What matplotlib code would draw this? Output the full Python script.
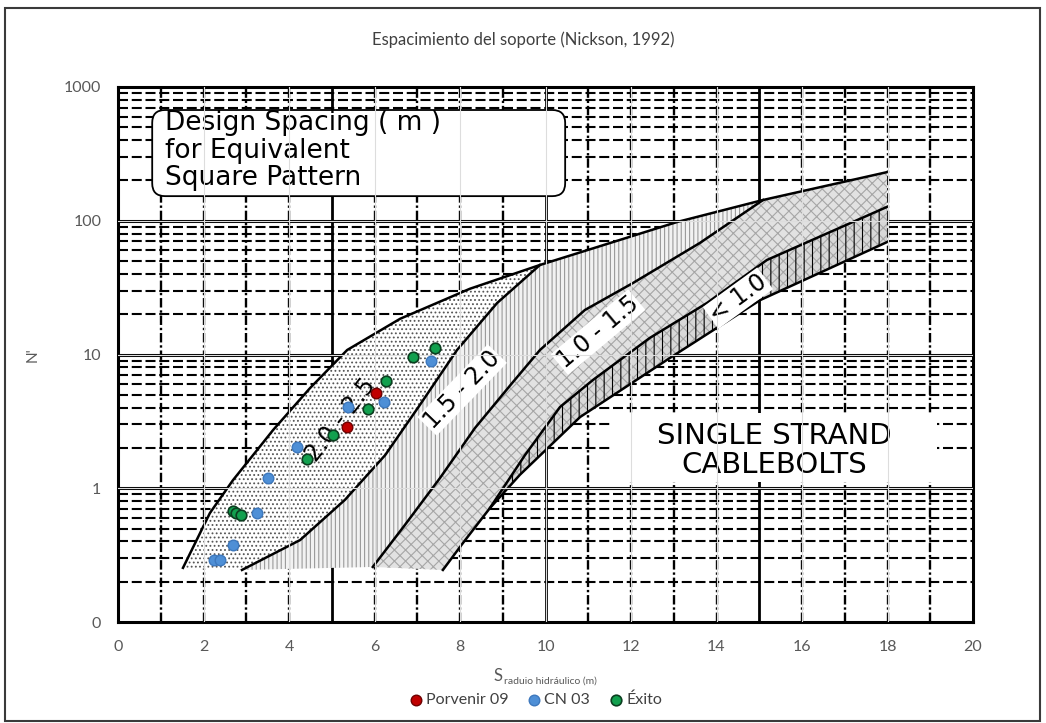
import numpy as np
import matplotlib.pyplot as plt
from matplotlib.patches import FancyBboxPatch, Rectangle

plt.rcParams['font.family'] = ['Lato', 'DejaVu Sans']
plt.rcParams['hatch.linewidth'] = 0.8

# Nickson (1992) design chart: boundaries of the spacing bands, S (m) vs N'
upper_s = [1.52, 2.15, 2.69, 3.16, 3.63, 4.49, 5.36, 6.60, 8.23, 9.87, 13.08, 15.09, 17.99]
upper_n = [0.254, 0.653, 1.15, 1.77, 2.73, 5.6, 10.8, 18.5, 31.0, 46.7, 97.9, 143, 231]

b20_s = [2.90, 4.26, 5.31, 6.25, 7.06, 7.93, 8.87, 9.87]
b20_n = [0.245, 0.41, 0.82, 1.77, 4.19, 10.8, 24.3, 46.7]

b15_s = [5.96, 6.71, 7.53, 8.35, 9.24, 9.87, 10.92, 12.05, 13.61, 15.09]
b15_n = [0.258, 0.531, 1.19, 2.82, 6.23, 10.8, 21.5, 34.3, 68.2, 143]

b10_s = [8.70, 9.52, 10.34, 11.11, 12.44, 13.78, 15.18, 17.99]
b10_n = [0.711, 1.77, 4.05, 6.45, 13.3, 24.3, 50.9, 127]

lower_s = [7.60, 8.07, 8.70, 9.40, 10.81, 12.91, 15.02, 17.99]
lower_n = [0.245, 0.390, 0.711, 1.26, 3.41, 9.42, 25.5, 69.3]

# field cases
porvenir_s = [5.36, 6.04]
porvenir_n = [2.87, 5.15]

cn03_s = [2.25, 2.38, 2.69, 3.25, 3.51, 4.19, 5.38, 6.22, 7.32]
cn03_n = [0.29, 0.29, 0.377, 0.653, 1.19, 2.03, 4.05, 4.41, 8.94]

exito_s = [2.68, 2.75, 2.88, 4.42, 5.03, 5.85, 6.27, 6.90, 7.42]
exito_n = [0.68, 0.65, 0.63, 1.66, 2.50, 3.91, 6.34, 9.58, 11.2]

x_ticks = [0, 2, 4, 6, 8, 10, 12, 14, 16, 18, 20]
y_ticks = [0.1, 1, 10, 100, 1000]
y_tick_labels = ['0', '1', '10', '100', '1000']

fig = plt.figure(figsize=(10.46, 7.23), dpi=100)
ax = fig.add_axes([118 / 1046, 101 / 723, 855 / 1046, 535 / 723])
ax.set_yscale('log')
ax.set_xlim(0, 20)
ax.set_ylim(0.1, 1000)

# chart grid
for s in range(1, 20):
    if s % 5 == 0:
        ax.axvline(s, color='black', lw=2.0, zorder=0.5)
    else:
        ax.axvline(s, color='black', lw=1.7, dashes=(4, 1.2, 1, 1.2), zorder=0.5)
for dec in [0.1, 1, 10, 100]:
    for k in range(2, 10):
        ax.axhline(k * dec, color='black', lw=1.5, dashes=(4.8, 1.8), zorder=0.5)
    if dec > 0.1:
        ax.axhline(dec, color='black', lw=2.2, zorder=0.5)
for sp in ax.spines.values():
    sp.set_linewidth(2.2)
    sp.set_color('black')

ax.add_patch(Rectangle((0.575, 0.262), 0.383, 0.129, transform=ax.transAxes,
                       facecolor='white', edgecolor='none', zorder=0.8))

upper_s, upper_n = np.array(upper_s), np.array(upper_n)
b20_s, b20_n = np.array(b20_s), np.array(b20_n)
b15_s, b15_n = np.array(b15_s), np.array(b15_n)
b10_s, b10_n = np.array(b10_s), np.array(b10_n)
lower_s, lower_n = np.array(lower_s), np.array(lower_n)

# 2.0 - 2.5
ax.fill(np.r_[upper_s[:10], b20_s[::-1]], np.r_[upper_n[:10], b20_n[::-1]],
        facecolor='white', edgecolor='#555555', hatch='....', lw=0, zorder=1)
# 1.5 - 2.0
ax.fill(np.r_[b20_s, upper_s[10:12], b15_s[::-1]], np.r_[b20_n, upper_n[10:12], b15_n[::-1]],
        facecolor='#f2f2f2', edgecolor='#9a9a9a', hatch='||||', lw=0, zorder=1)
# 1.0 - 1.5
ax.fill(np.r_[b15_s, upper_s[12:], b10_s[::-1], lower_s[1::-1]],
        np.r_[b15_n, upper_n[12:], b10_n[::-1], lower_n[1::-1]],
        facecolor='#e2e2e2', edgecolor='#a6a6a6', hatch='xxx', lw=0, zorder=1)
# < 1.0
band_s = np.r_[b10_s, lower_s[2:][::-1]]
band_n = np.r_[b10_n, lower_n[2:][::-1]]
ax.fill(band_s, band_n, facecolor='#d8d8d8', edgecolor='#a6a6a6', hatch='xxx', lw=0, zorder=1)
ax.fill(band_s, band_n, facecolor='none', edgecolor='black', hatch='||', lw=0, zorder=1.1)

for xs, ns in [(upper_s, upper_n), (b20_s, b20_n), (b15_s, b15_n), (b10_s, b10_n), (lower_s, lower_n)]:
    ax.plot(xs, ns, color='black', lw=1.8, zorder=2)

band_font = dict(family='DejaVu Sans', fontsize=17, ha='center', va='center',
                 rotation_mode='anchor', zorder=3)
ax.text(5.22, 3.24, '2.0 - 2.5', rotation=52, **band_font)
ax.text(8.05, 5.43, '1.5 - 2.0', rotation=46,
        bbox=dict(facecolor='white', edgecolor='none', pad=1), **band_font)
ax.text(11.23, 14.7, '1.0 - 1.5', rotation=40,
        bbox=dict(facecolor='white', edgecolor='none', pad=1), **band_font)
ax.text(14.50, 26.4, '< 1.0', rotation=36,
        bbox=dict(facecolor='white', edgecolor='none', pad=1), **band_font)

ax.add_patch(FancyBboxPatch((0.040, 0.796), 0.483, 0.161, transform=ax.transAxes,
                            boxstyle='round,pad=0,rounding_size=0.015', mutation_aspect=855 / 535,
                            facecolor='white', edgecolor='black', lw=1.3, zorder=3))
for yy, line in zip([0.932, 0.881, 0.830], ['Design Spacing ( m )', 'for Equivalent', 'Square Pattern']):
    ax.text(0.055, yy, line, transform=ax.transAxes, family='DejaVu Sans', fontsize=19,
            ha='left', va='center', zorder=3.2)

ax.text(0.768, 0.348, 'SINGLE STRAND', transform=ax.transAxes, family='DejaVu Sans',
        fontsize=21, ha='center', va='center', zorder=3)
ax.text(0.768, 0.294, 'CABLEBOLTS', transform=ax.transAxes, family='DejaVu Sans',
        fontsize=21, ha='center', va='center', zorder=3)

# light Excel gridlines over the chart
for s in x_ticks[1:-1]:
    ax.axvline(s, color='#dddddd', lw=0.8, zorder=3.5)
for n in y_ticks[1:-1]:
    ax.axhline(n, color='#dddddd', lw=0.8, zorder=3.5)

red = ax.scatter(porvenir_s, porvenir_n, s=58, color='#c00000', edgecolors='#6e0000',
                 linewidths=1, zorder=5, label='Porvenir 09')
blue = ax.scatter(cn03_s, cn03_n, s=58, color='#4e8fd6', edgecolors='#3d78bd',
                  linewidths=1, zorder=5, label='CN 03')
green = ax.scatter(exito_s, exito_n, s=58, color='#12a04e', edgecolors='#0b3f20',
                   linewidths=1.2, zorder=5, label='Éxito')

ax.set_xticks(x_ticks)
ax.set_yticks(y_ticks, y_tick_labels)
ax.yaxis.set_minor_locator(plt.NullLocator())
ax.tick_params(length=0, labelsize=11.5, labelcolor='#595959')
ax.tick_params(axis='x', pad=13)
ax.tick_params(axis='y', pad=12)

ax.set_ylabel("N'", fontsize=11, color='#595959')
ax.yaxis.set_label_coords(-78 / 855, 0.5)
fig.text(503 / 1046, 1 - 676 / 723, 'S', ha='right', va='center', fontsize=12, color='#595959')
fig.text(504 / 1046, 1 - 681 / 723, 'raduio hidráulico (m)', ha='left', va='center',
         fontsize=7.5, color='#595959')

fig.suptitle('Espacimiento del soporte (Nickson, 1992)', x=523 / 1046, y=1 - 40 / 723,
             va='center', fontsize=12, color='#404040')

fig.legend(handles=[red, blue, green], loc='center', bbox_to_anchor=(534 / 1046, 1 - 700 / 723),
           ncol=3, frameon=False, fontsize=11.5, handletextpad=0.05, columnspacing=1.0,
           handlelength=1.2, labelcolor='#404040')

fig.patches.append(Rectangle((5 / 1046, 0.003), 1035 / 1046, 0.986, transform=fig.transFigure,
                             fill=False, edgecolor='#3a3a3a', lw=1.5))

fig.savefig('out.png', dpi=100)
